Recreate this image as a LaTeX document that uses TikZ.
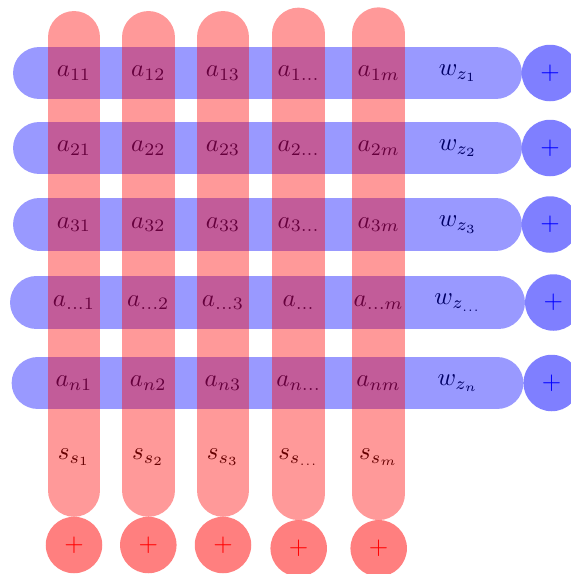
\documentclass[tikz,border=0pt]{standalone}
\usetikzlibrary{calc}
\begin{document}
\begin{tikzpicture}[x=0.4pt,y=-0.4pt,
  redbar/.style={draw=red,draw opacity=0.4,line width=21.1pt,line cap=round},
  bluebar/.style={draw=blue,draw opacity=0.4,line width=21.1pt,line cap=round},
  redsum/.style={circle,fill=red,fill opacity=0.5,text opacity=1,text=red,minimum size=22.6pt,inner sep=0pt},
  bluesum/.style={circle,fill=blue,fill opacity=0.5,text opacity=1,text=blue,minimum size=22.6pt,inner sep=0pt},
  cell/.style={inner sep=0pt}]
\useasboundingbox (0,0) rectangle (571,574);
% column / row positions
\def\ca{74}\def\cb{148.3}\def\cc{223}\def\cd{298.7}\def\ce{378.7}\def\cw{458}
\def\ra{73}\def\rb{148}\def\rc{224.5}\def\rd{302.5}\def\re{383}\def\rs{457}
% texts
\node[cell] (a11) at (\ca,\ra) {$a_{11}$};
\node[cell] (a12) at (\cb,\ra) {$a_{12}$};
\node[cell] (a13) at (\cc,\ra) {$a_{13}$};
\node[cell] (a14) at (\cd,\ra) {$a_{1\dots}$};
\node[cell] (a15) at (\ce,\ra) {$a_{1m}$};
\node[cell] (w1) at (\cw,\ra) {$w_{z_{1}}$};
\node[cell] (a21) at (\ca,\rb) {$a_{21}$};
\node[cell] (a22) at (\cb,\rb) {$a_{22}$};
\node[cell] (a23) at (\cc,\rb) {$a_{23}$};
\node[cell] (a24) at (\cd,\rb) {$a_{2\dots}$};
\node[cell] (a25) at (\ce,\rb) {$a_{2m}$};
\node[cell] (w2) at (\cw,\rb) {$w_{z_{2}}$};
\node[cell] (a31) at (\ca,\rc) {$a_{31}$};
\node[cell] (a32) at (\cb,\rc) {$a_{32}$};
\node[cell] (a33) at (\cc,\rc) {$a_{33}$};
\node[cell] (a34) at (\cd,\rc) {$a_{3\dots}$};
\node[cell] (a35) at (\ce,\rc) {$a_{3m}$};
\node[cell] (w3) at (\cw,\rc) {$w_{z_{3}}$};
\node[cell] (a41) at (\ca,\rd) {$a_{\dots1}$};
\node[cell] (a42) at (\cb,\rd) {$a_{\dots2}$};
\node[cell] (a43) at (\cc,\rd) {$a_{\dots3}$};
\node[cell] (a44) at (\cd,\rd) {$a_{\dots}$};
\node[cell] (a45) at (\ce,\rd) {$a_{\dots m}$};
\node[cell] (w4) at (\cw,\rd) {$w_{z_{\dots}}$};
\node[cell] (a51) at (\ca,\re) {$a_{n1}$};
\node[cell] (a52) at (\cb,\re) {$a_{n2}$};
\node[cell] (a53) at (\cc,\re) {$a_{n3}$};
\node[cell] (a54) at (\cd,\re) {$a_{n\dots}$};
\node[cell] (a55) at (\ce,\re) {$a_{nm}$};
\node[cell] (w5) at (\cw,\re) {$w_{z_{n}}$};
\node[cell] (s1) at (\ca,\rs) {$s_{s_{1}}$};
\node[cell] (s2) at (\cb,\rs) {$s_{s_{2}}$};
\node[cell] (s3) at (\cc,\rs) {$s_{s_{3}}$};
\node[cell] (s4) at (\cd,\rs) {$s_{s_{\dots}}$};
\node[cell] (s5) at (\ce,\rs) {$s_{s_{m}}$};
% blue row bars (half width 26.35)
\draw[bluebar] (39.4,\ra) -- (495.6,\ra);
\draw[bluebar] (39.4,\rb) -- (495.6,\rb);
\draw[bluebar] (39.4,\rc) -- (495.6,\rc);
\draw[bluebar] (36.4,\rd) -- (498.6,\rd);
\draw[bluebar] (38.0,\re) -- (497.0,\re);
% red column bars
\draw[redbar] (\ca,37.4) -- (\ca,490.4);
\draw[redbar] (\cb,37.4) -- (\cb,490.4);
\draw[redbar] (\cc,37.4) -- (\cc,490.4);
\draw[redbar] (\cd,34.0) -- (\cd,493.7);
\draw[redbar] (\ce,33.7) -- (\ce,493.7);
% sums
\node[bluesum] (p1) at (550,\ra) {$+$};
\node[bluesum] (p2) at (550,\rb) {$+$};
\node[bluesum] (p3) at (550,\rc) {$+$};
\node[bluesum] (p4) at (553.3,\rd) {$+$};
\node[bluesum] (p5) at (551.7,\re) {$+$};
\node[redsum] (q1) at (\ca,545) {$+$};
\node[redsum] (q2) at (\cb,545) {$+$};
\node[redsum] (q3) at (\cc,545) {$+$};
\node[redsum] (q4) at (\cd,548.3) {$+$};
\node[redsum] (q5) at (\ce,548.3) {$+$};
\end{tikzpicture}
\end{document}
